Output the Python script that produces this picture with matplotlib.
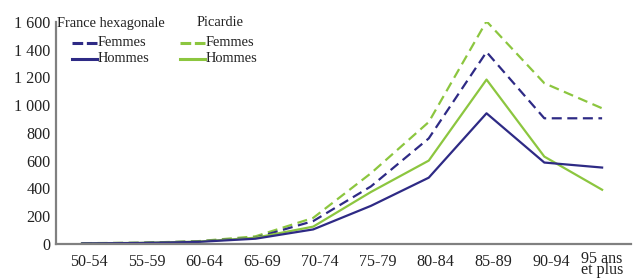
import matplotlib
matplotlib.use("Agg")
import matplotlib.pyplot as plt
from matplotlib.lines import Line2D
from matplotlib.transforms import ScaledTranslation

categories = ["50-54", "55-59", "60-64", "65-69", "70-74", "75-79", "80-84", "85-89", "90-94", "95 ans\net plus"]
france_femmes = [5, 8, 18, 45, 165, 415, 761, 1384, 906, 906]
france_hommes = [4, 7, 15, 38, 105, 275, 478, 942, 587, 551]
picardie_femmes = [6, 9, 20, 55, 188, 510, 879, 1605, 1159, 978]
picardie_hommes = [5, 8, 17, 45, 125, 375, 601, 1185, 630, 391]
yticks = [0, 200, 400, 600, 800, 1000, 1200, 1400, 1600]
ytick_labels = ["0", "200", "400", "600", "800", "1 000", "1 200", "1 400", "1 600"]

navy = "#2e2a85"
green = "#8cc63f"
dash = (4.5, 2.5)

plt.rcParams["font.family"] = ["Liberation Serif", "DejaVu Serif"]
fig = plt.figure(figsize=(6.41, 2.78), dpi=100)
ax = fig.add_axes([56/641, 34/278, 575/641, 222/278])
x = list(range(len(categories)))
lw = 1.6
ax.plot(x, picardie_femmes, color=green, lw=lw, ls=(0, dash))
ax.plot(x, france_femmes, color=navy, lw=lw, ls=(0, dash))
ax.plot(x, picardie_hommes, color=green, lw=lw)
ax.plot(x, france_hommes, color=navy, lw=lw)

ax.set_xlim(-0.45, 9.5)
ax.set_ylim(0, 1600)
ax.set_yticks(yticks)
ax.set_yticklabels(ytick_labels, fontsize=11.6)
ax.set_xticks(x)
ax.set_xticklabels(categories, fontsize=11.6, linespacing=0.6, va="top")
ax.tick_params(axis="both", length=0, colors="#222222")
ax.tick_params(axis="y", pad=4)
ax.tick_params(axis="x", pad=7)
labels = ax.get_xticklabels()
for i, lab in enumerate(labels):
    if i < len(categories) - 1:
        lab.set_transform(lab.get_transform() + ScaledTranslation(7/100, 0, fig.dpi_scale_trans))
    else:
        lab.set_transform(lab.get_transform() + ScaledTranslation(0, 3/100, fig.dpi_scale_trans))
for s in ["top", "right"]:
    ax.spines[s].set_visible(False)
for s in ["left", "bottom"]:
    ax.spines[s].set_color("#808080")
    ax.spines[s].set_linewidth(1.6)

# Legend drawn as text + handles in figure pixel coords
def fx(px):
    return px / 641
def fy(py):
    return 1 - py / 278

fig.text(fx(57), fy(23), "France hexagonale", fontsize=10.4, va="center", ha="left", color="#222222")
fig.text(fx(197), fy(23), "Picardie", fontsize=10.4, va="center", ha="left", color="#222222")
entries = [
    (72, 43, navy, (0, (3.5, 1.2)), "Femmes"),
    (72, 59, navy, "-", "Hommes"),
    (180, 43, green, (0, (3.5, 1.2)), "Femmes"),
    (180, 59, green, "-", "Hommes"),
]
for x0, y0, c, ls, lab in entries:
    fig.add_artist(Line2D([fx(x0), fx(x0 + 25)], [fy(y0), fy(y0)], color=c, lw=2.2, ls=ls,
                          transform=fig.transFigure))
    fig.text(fx(x0 + 26), fy(y0), lab, fontsize=10.4, va="center", ha="left", color="#222222")

fig.savefig("out.png", dpi=100)
